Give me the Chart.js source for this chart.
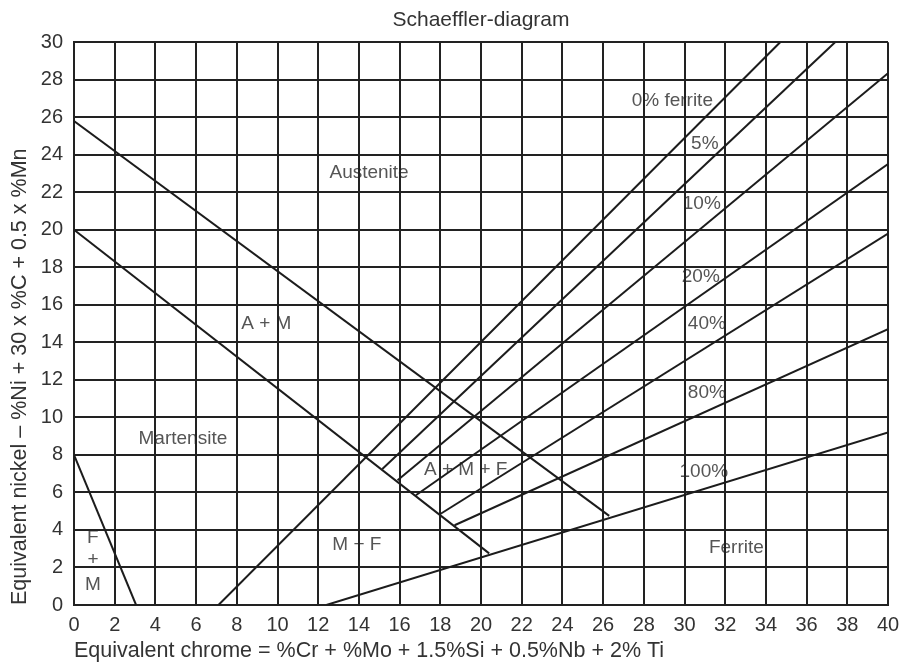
<!DOCTYPE html>
<html>
<head>
<meta charset="utf-8">
<title>Schaeffler-diagram</title>
<script src="https://cdn.jsdelivr.net/npm/chart.js@4/dist/chart.umd.min.js"></script>
<style>
  html, body { margin: 0; padding: 0; background: #fff; }
  #wrap { width: 899px; height: 664px; }
</style>
</head>
<body>
<div id="wrap"><canvas id="schaeffler" width="899" height="664"></canvas></div>
<script>
// Boundary lines, [Cr-eq, Ni-eq] end points
const austeniteLimit = [[0, 25.8], [26.3, 4.75]];
const martensiteLimit = [[0, 20], [20.4, 2.75]];
const ferriteMartensiteLimit = [[0, 8], [3.05, 0]];
const ferrite0 = [[7.1, 0], [34.7, 30]];
const ferrite5 = [[15.15, 7.25], [37.4, 30]];
const ferrite10 = [[15.9, 6.65], [40, 28.35]];
const ferrite20 = [[16.8, 5.85], [40, 23.5]];
const ferrite40 = [[18.0, 4.85], [40, 19.8]];
const ferrite80 = [[18.7, 4.25], [40, 14.7]];
const ferrite100 = [[12.4, 0], [40, 9.2]];

// Tick values
const xTickValues = [0, 2, 4, 6, 8, 10, 12, 14, 16, 18, 20, 22, 24, 26, 28, 30, 32, 34, 36, 38, 40];
const yTickValues = [0, 2, 4, 6, 8, 10, 12, 14, 16, 18, 20, 22, 24, 26, 28, 30];

// Region / curve labels
const labelTexts = ['Austenite', '0% ferrite', '5%', '10%', '20%', '40%', '80%', '100%',
  'Ferrite', 'A + M', 'Martensite', 'A + M + F', 'M + F', 'F', '+', 'M'];
const labelX = [14.5, 29.4, 31.0, 30.85, 30.8, 31.1, 31.1, 30.95, 32.55, 9.45, 5.35, 19.25, 13.9, 0.93, 0.93, 0.93];
const labelY = [23.05, 26.9, 24.6, 21.4, 17.5, 15.0, 11.3, 7.1, 3.05, 15.0, 8.85, 7.2, 3.2, 3.6, 2.4, 1.1];

const boundaryLines = [austeniteLimit, martensiteLimit, ferriteMartensiteLimit, ferrite0, ferrite5,
  ferrite10, ferrite20, ferrite40, ferrite80, ferrite100];

const FONT = '"Liberation Sans", Arial, Helvetica, sans-serif';

// labels are drawn first so the grid lines run over them, like in the scan
const regionLabels = {
  id: 'regionLabels',
  afterLayout(chart) {
    // centre the title over the plot, not the whole canvas
    if (chart.titleBlock) {
      chart.titleBlock.left = chart.chartArea.left;
      chart.titleBlock.right = chart.chartArea.right;
    }
  },
  beforeDraw(chart) {
    const { ctx, scales } = chart;
    ctx.save();
    ctx.font = '19px ' + FONT;
    ctx.fillStyle = '#555';
    ctx.textAlign = 'center';
    ctx.textBaseline = 'middle';
    labelTexts.forEach((t, i) => {
      ctx.fillText(t, scales.x.getPixelForValue(labelX[i]), scales.y.getPixelForValue(labelY[i]));
    });
    ctx.restore();
  }
};

const ctx = document.getElementById('schaeffler').getContext('2d');
const chart = new Chart(ctx, {
  type: 'scatter',
  data: {
    datasets: boundaryLines.map(pts => ({
      data: pts.map(p => ({ x: p[0], y: p[1] })),
      showLine: true,
      borderColor: '#1c1c1c',
      borderWidth: 2,
      pointRadius: 0,
      fill: false
    }))
  },
  options: {
    responsive: false,
    animation: false,
    layout: { padding: { left: 0, right: 0, top: 0, bottom: 0 } },
    plugins: {
      legend: { display: false },
      tooltip: { enabled: false },
      title: {
        display: true,
        text: 'Schaeffler-diagram',
        color: '#333',
        font: { family: FONT, size: 21, weight: 'normal' },
        padding: { top: 8, bottom: 9 }
      }
    },
    scales: {
      x: {
        type: 'linear',
        min: 0,
        max: 40,
        afterFit(scale) {
          scale.height = 59;
          scale.paddingRight = 11;
        },
        afterBuildTicks(scale) { scale.ticks = xTickValues.map(v => ({ value: v })); },
        grid: { color: '#222', lineWidth: 2, drawTicks: false },
        border: { color: '#222', width: 2 },
        ticks: { color: '#333', padding: 8, maxRotation: 0, autoSkip: false, font: { family: FONT, size: 20 } },
        title: {
          display: true,
          align: 'start',
          text: 'Equivalent chrome = %Cr + %Mo + 1.5%Si + 0.5%Nb + 2% Ti',
          color: '#333',
          font: { family: FONT, size: 21.5 },
          padding: { top: 0, bottom: 0 }
        }
      },
      y: {
        type: 'linear',
        min: 0,
        max: 30,
        afterFit(scale) { scale.width = 74; },
        afterBuildTicks(scale) { scale.ticks = yTickValues.map(v => ({ value: v })); },
        grid: { color: '#222', lineWidth: 2, drawTicks: false },
        border: { color: '#222', width: 2 },
        ticks: { color: '#333', padding: 11, autoSkip: false, font: { family: FONT, size: 20 } },
        title: {
          display: true,
          align: 'start',
          text: 'Equivalent nickel \u2013 %Ni + 30 x %C + 0.5 x %Mn',
          color: '#333',
          font: { family: FONT, size: 21.5 },
          padding: { top: 7, bottom: 0 }
        }
      }
    }
  },
  plugins: [regionLabels]
});
</script>
</body>
</html>
